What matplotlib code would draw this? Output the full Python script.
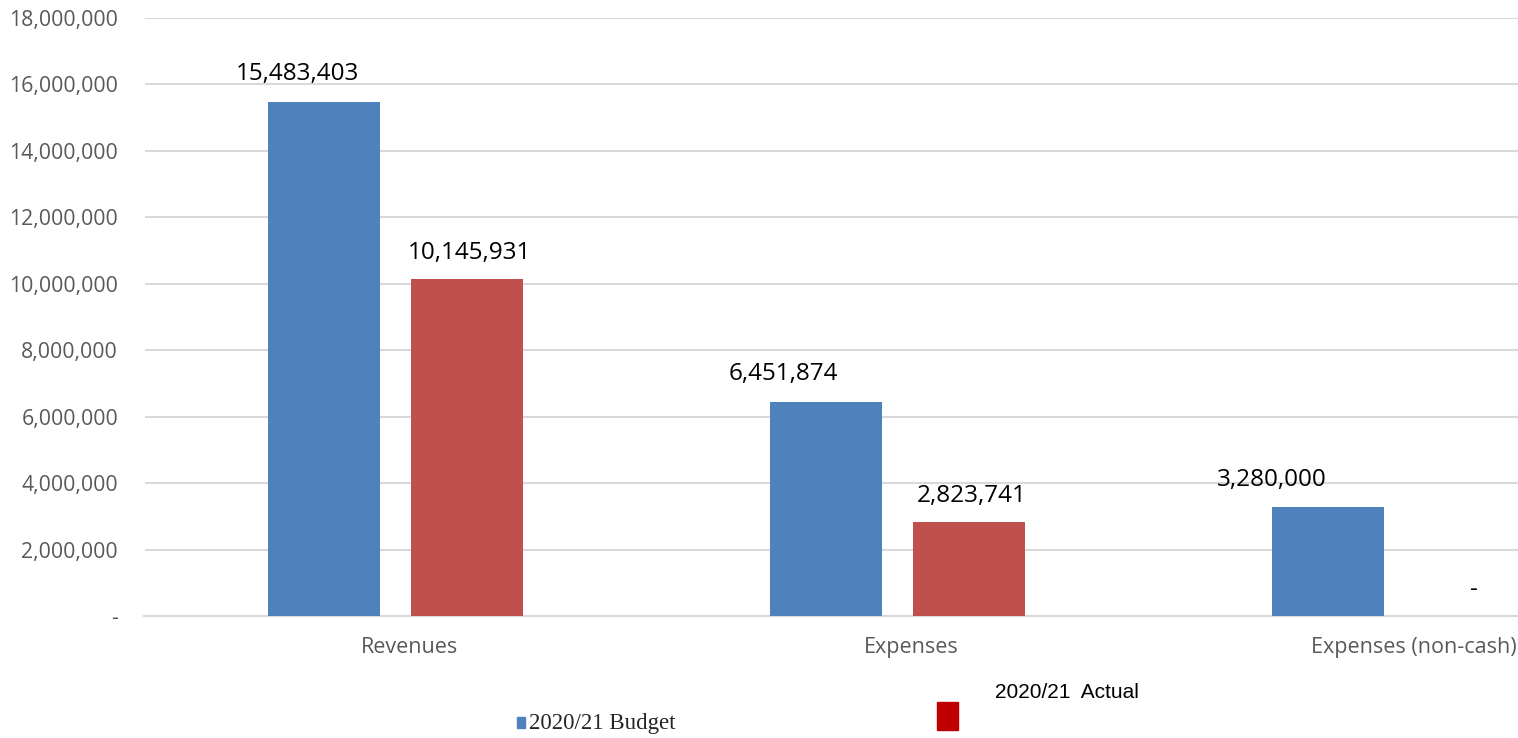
import matplotlib
matplotlib.use('Agg')
import numpy as np
from matplotlib import pyplot as plt
from matplotlib.patches import Rectangle
from matplotlib.ticker import FuncFormatter

categories = ['Revenues', 'Expenses', 'Expenses (non-cash)']
budget = [15483403, 6451874, 3280000]
actual = [10145931, 2823741, 0]
series_names = ['2020/21 Budget', '2020/21  Actual']

blue = '#4F81BD'
red = '#C0504D'
grid_col = '#D9D9D9'
sans = ['Open Sans', 'DejaVu Sans']

fig = plt.figure(figsize=(15.18, 7.38), dpi=100)
W, H = 1518, 738
# axes runs past the right edge of the picture, like the source
ax = fig.add_axes([144.5 / W, (H - 616) / H, 1506 / W, 598 / H])

x = np.arange(len(categories))
bw = 0.223
off = 0.1424
b1 = ax.bar(x - off, budget, bw, color=blue, zorder=3)
b2 = ax.bar(x + off, actual, bw, color=red, zorder=3)

ax.set_xlim(-0.5, 2.5)
ax.set_ylim(0, 18000000)
ax.set_yticks(np.arange(0, 18000001, 2000000))
ax.yaxis.set_major_formatter(FuncFormatter(lambda v, p: '-' if v == 0 else f'{int(v):,}'))
ax.grid(axis='y', color=grid_col, linewidth=1.5, zorder=0)
for s in ['top', 'right', 'left']:
    ax.spines[s].set_visible(False)
ax.spines['bottom'].set_color(grid_col)
ax.spines['bottom'].set_linewidth(1.5)
ax.tick_params(axis='both', length=0, colors='#595959')
ax.tick_params(axis='y', pad=19, labelsize=15.3)
ax.tick_params(axis='x', pad=15, labelsize=15.5)
# category labels sit a bit right of the bar pair in the source
ax.set_xticks(x + 0.028)
ax.set_xticklabels(categories)
for t in ax.get_xticklabels() + ax.get_yticklabels():
    t.set_family(sans)

# value labels (blue ones drift left in the source)
blue_shift = [-27, -43, -56]
for rect, v, dx in zip(b1, budget, blue_shift):
    ax.annotate(f'{v:,}', (rect.get_x() + rect.get_width() / 2, v),
                xytext=(dx * 0.72, 11), textcoords='offset points',
                ha='center', va='bottom', fontsize=17.5, family=sans, color='black')
for rect, v in zip(b2, actual):
    ax.annotate('-' if v == 0 else f'{v:,}', (rect.get_x() + rect.get_width() / 2, v),
                xytext=(2, 10), textcoords='offset points',
                ha='center', va='bottom', fontsize=17.5, family=sans, color='black')

# legend, drawn by hand to copy the odd layout
fig.patches.append(Rectangle((517 / W, (H - 728) / H), 8 / W, 11 / H,
                             transform=fig.transFigure, color=blue))
fig.text(529 / W, (H - 723) / H, series_names[0], family=['Liberation Serif'],
         fontsize=16.5, va='center', ha='left', color='#262626')
fig.patches.append(Rectangle((937 / W, (H - 730) / H), 21 / W, 28 / H,
                             transform=fig.transFigure, color='#C00000'))
fig.text(995 / W, (H - 692) / H, series_names[1], family=['Liberation Sans Narrow', 'Liberation Sans'],
         fontsize=15, va='center', ha='left', color='black')

fig.savefig('out.png', dpi=100)
